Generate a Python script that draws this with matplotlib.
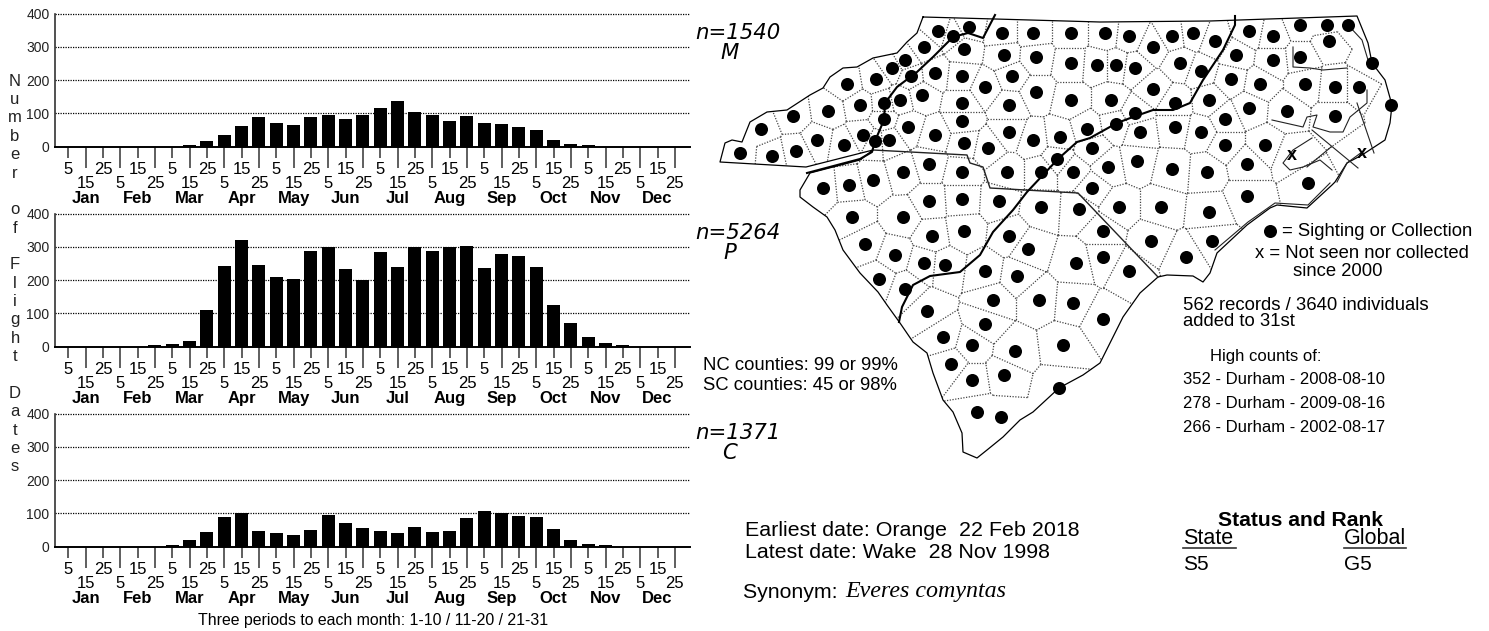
import matplotlib
matplotlib.use("Agg")

import numpy as np
import matplotlib.pyplot as plt
import matplotlib.tri as mtri
from matplotlib.collections import LineCollection
from matplotlib.patches import Polygon

plt.rcParams["font.family"] = ["Liberation Sans", "DejaVu Sans"]

W, H = 1489, 631

# =======================
# Data
# =======================

months = ["Jan", "Feb", "Mar", "Apr", "May", "Jun", "Jul", "Aug", "Sep", "Oct", "Nov", "Dec"]
periods = ["5", "15", "25"] * 12
y_ticks = [0, 100, 200, 300, 400]

mountains = [0, 0, 0, 0, 0, 0, 0, 5, 17, 35, 62, 89, 71, 65, 89, 95, 83, 95,
             116, 137, 104, 95, 77, 92, 71, 68, 59, 50, 20, 8, 5, 0, 0, 0, 0, 0]
piedmont = [0, 0, 0, 0, 0, 5, 8, 17, 110, 242, 320, 245, 209, 203, 287, 299, 233, 200,
            284, 239, 299, 287, 299, 302, 236, 278, 272, 239, 125, 71, 29, 11, 5, 0, 0, 0]
coastal = [0, 0, 0, 0, 0, 0, 5, 20, 44, 89, 101, 47, 41, 35, 50, 95, 71, 56,
           47, 41, 59, 44, 47, 86, 107, 101, 92, 89, 53, 20, 8, 5, 0, 0, 0, 0]

# dots and outlines, in picture pixels
dots_x = [937.7, 969.3, 953.3, 1001.7, 1033.3, 1070.7, 924, 964, 1004, 1036, 1070.7, 905.3,
          892, 876, 846.7, 910.7, 934.7, 961.7, 1012, 985.3, 1036, 1070.7, 921.7, 900,
          884, 860, 828, 793.3, 961.7, 1009.3, 884, 961.7, 908.3, 761.3, 934.7, 1009.3,
          862.7, 1086.7, 817.3, 874.7, 889.3, 964, 1033.3, 1060, 844, 988, 1092, 796,
          740, 772, 1057.3, 929.3, 902.7, 961.7, 1006.7, 1041.3, 1073.3, 873.3, 849.3, 822.7,
          1092, 961.7, 929.3, 998.7, 1041.3, 1078.7, 852, 902.7, 964, 932, 1009.3, 865.3,
          1105.3, 1129.3, 1172, 1193.3, 1153.3, 1214.7, 1249.3, 1273.3, 1300, 1326.7, 1348.3, 1329.3,
          1236, 1273.3, 1300, 1372, 1180, 1097.3, 1116, 1134.7, 1201.3, 1230.7, 1260, 1305.3,
          1334.7, 1358.7, 1153.3, 1110.7, 1209.3, 1174.7, 1390.7, 1249.3, 1286.7, 1134.7, 1334.7, 1225.3,
          1116, 1174.7, 1140, 1201.3, 1225.3, 1265.3, 1137.3, 1246.7, 1108, 1172, 1206.7, 1308,
          1246.7, 1118.7, 1161.3, 1209.3, 1102.7, 1151, 1212, 1102.7, 1129.3, 1185.7, 1102.7, 1028,
          894.7, 924, 945.3, 985.3, 1017.3, 1076, 878.7, 905.3, 926.7, 993.3, 1038.7, 1073.3,
          985.3, 942.7, 972, 1062.7, 1014.7, 950.7, 1004, 972, 1058.7, 977.3, 1001.3]
dots_y = [31.3, 27.3, 36, 33.3, 33.3, 33.3, 47, 49.3, 55, 57.3, 63.3, 60.3,
          68, 79, 84, 76, 73.3, 76.3, 76.3, 87.3, 92.3, 100, 95.3, 100,
          103.3, 105.3, 111, 116, 103.3, 105.3, 119, 121.3, 127, 129, 135, 132.3,
          135, 129.3, 140.3, 141.3, 140.3, 143.3, 140.3, 137, 145, 148.3, 148.3, 151,
          153.3, 156, 159, 164, 172, 172, 172, 172, 172, 180, 185.3, 188,
          188, 199, 201.3, 201.3, 207, 209.3, 217, 217, 231, 236, 236, 244,
          33.3, 36, 36, 33.3, 47, 41.3, 31.3, 36, 25.3, 25.3, 25.3, 41.3,
          55, 60.3, 57.3, 63, 63, 65.3, 65.3, 68, 70.7, 79, 84, 84,
          87, 87, 89.3, 100, 100, 103, 105.3, 108, 111, 113.3, 116, 119,
          124, 127, 132, 132, 145, 145, 161.3, 164, 166.7, 169.3, 172, 182.7,
          196, 207, 207, 212, 231.3, 241, 241, 257.3, 271.3, 257.3, 318.5, 249,
          255, 263.3, 265.3, 271, 276, 263.3, 279.3, 289, 311.3, 300, 300, 303,
          324, 337, 345, 345, 351, 364, 375, 380, 387.7, 412, 417]
gone_x = [1291.7, 1361.7]
gone_y = [155.7, 153.7]

state_outline = [(923, 17), (995, 19), (1100, 22), (1210, 21), (1357, 16), (1368, 43), (1372, 63),
                 (1385, 80), (1392, 105), (1390, 123), (1385, 140), (1362, 155), (1347, 163),
                 (1335, 182), (1332, 185), (1307, 208), (1277, 205), (1270, 208), (1247, 225),
                 (1217, 253), (1210, 273), (1203, 282), (1193, 276), (1167, 275), (1158, 277),
                 (1140, 293), (1123, 317), (1100, 363), (1083, 375), (1059, 388), (1033, 412),
                 (1020, 420), (1003, 437), (987, 450), (977, 458), (963, 452), (962, 433),
                 (953, 412), (943, 400), (933, 373), (927, 353), (913, 342), (900, 323), (887, 305),
                 (878, 292), (860, 273), (843, 250), (835, 230), (827, 217), (813, 207), (800, 197),
                 (800, 190), (810, 173), (860, 160), (873, 150), (806, 167), (720, 162), (725, 143),
                 (732, 140), (742, 142), (750, 122), (767, 112), (787, 110), (810, 95), (823, 88),
                 (830, 77), (843, 68), (857, 67), (873, 58), (897, 53), (907, 42), (917, 33)]
state_line = [(873, 150), (967, 155), (970, 163), (983, 167), (990, 188), (1078, 193), (1158, 277)]
mountain_line = [(995, 15), (983, 38), (968, 33), (953, 37), (933, 57), (917, 72), (897, 87), (885, 103),
                 (884, 120), (875, 141), (872, 152), (860, 159), (807, 173)]
plain_line = [(1235, 16), (1235, 25), (1223, 50), (1203, 80), (1190, 103), (1173, 110), (1153, 110),
              (1133, 117), (1117, 123), (1090, 138), (1077, 142), (1058, 159), (1027, 192), (1013, 210),
              (993, 232), (980, 255), (960, 272), (930, 276), (913, 285), (902, 307), (899, 322)]
sounds = [
    [(1293, 47), (1293, 67), (1310, 68), (1323, 70), (1347, 68)],
    [(1272, 120), (1303, 127), (1307, 117), (1317, 115), (1313, 127), (1330, 132), (1343, 132),
     (1350, 117), (1367, 103), (1367, 90)],
    [(1312, 138), (1293, 150), (1283, 163), (1290, 170), (1303, 167), (1320, 160), (1332, 170)],
    [(1357, 103), (1374, 153)],
    [(1312, 130), (1358, 168)],
    [(1331, 147), (1307, 167)],
    [(1348, 25), (1362, 40), (1368, 60)],
    [(1337, 182), (1347, 163), (1362, 152)],
    [(1330, 183), (1308, 205), (1275, 203), (1248, 222), (1215, 250)],
]

# =======================
# Layout helpers
# =======================

def add_bar_panel(fig, values, top_px, bottom_px):
    # axes box runs from the y axis at x=55 to the end of the gridlines at x=690
    ax = fig.add_axes([55 / W, 1 - bottom_px / H, 635 / W, (bottom_px - top_px) / H])
    ax.patch.set_alpha(0)
    idx = np.arange(len(values))
    ax.bar(idx, values, width=0.75, color="black", zorder=3)
    ax.set_xlim(-0.77, 35.87)
    ax.set_ylim(0, 400)

    ax.set_yticks(y_ticks)
    ax.tick_params(axis="y", length=0, pad=4, labelsize=10, colors="#222222")
    for v in y_ticks[1:]:
        ax.axhline(v, color="black", lw=0.9, ls=(0, (1, 1)), zorder=1, clip_on=False)

    ax.set_xticks(idx[::2], periods[::2])
    ax.set_xticks(idx[1::2], periods[1::2], minor=True)
    ax.tick_params(axis="x", which="major", length=8, width=1.1, pad=3, labelsize=12, color="#333333")
    ax.tick_params(axis="x", which="minor", length=15, width=1.1, pad=6, labelsize=12, color="#333333")

    for i, m in enumerate(months):
        ax.annotate(m, xy=(3 * i + 1, 0), xycoords=("data", "axes fraction"), xytext=(0, -37),
                    textcoords="offset points", ha="center", va="center", fontsize=12, weight="bold")

    for s in ["top", "right"]:
        ax.spines[s].set_visible(False)
    ax.spines["left"].set_color("#333333")
    ax.spines["left"].set_linewidth(1.2)
    ax.spines["bottom"].set_linewidth(1.4)
    return ax


def county_edges(x, y):
    # no county lines can be read one by one, so they are the cell edges around the dots
    tri = mtri.Triangulation(x, y)
    pts = np.column_stack([x, y])
    a, b, c = (pts[tri.triangles[:, k]] for k in range(3))
    d = 2 * (a[:, 0] * (b[:, 1] - c[:, 1]) + b[:, 0] * (c[:, 1] - a[:, 1]) + c[:, 0] * (a[:, 1] - b[:, 1]))
    na, nb, nc = (a ** 2).sum(1), (b ** 2).sum(1), (c ** 2).sum(1)
    ux = (na * (b[:, 1] - c[:, 1]) + nb * (c[:, 1] - a[:, 1]) + nc * (a[:, 1] - b[:, 1])) / d
    uy = (na * (c[:, 0] - b[:, 0]) + nb * (a[:, 0] - c[:, 0]) + nc * (b[:, 0] - a[:, 0])) / d
    segs = []
    for i, row in enumerate(tri.neighbors):
        for j in row:
            if j > i:
                segs.append([(ux[i], uy[i]), (ux[j], uy[j])])
    return segs


def draw_map(ax):
    sites_x = np.array(dots_x + gone_x)
    sites_y = np.array(dots_y + gone_y)
    clip = Polygon(state_outline, closed=True, transform=ax.transData, fill=False, lw=0)
    ax.add_patch(clip)
    lc = LineCollection(county_edges(sites_x, sites_y), colors="#444444", linewidths=0.9,
                        linestyles=[(0, (1, 1.2))], zorder=1)
    ax.add_collection(lc)
    lc.set_clip_path(clip)

    xs, ys = zip(*(state_outline + state_outline[:1]))
    ax.plot(xs, ys, color="black", lw=0.9, zorder=2)
    for line in sounds:
        ax.plot(*zip(*line), color="#222222", lw=0.8, zorder=2)
    ax.plot(*zip(*state_line), color="#222222", lw=1.0, zorder=2)
    ax.plot(*zip(*mountain_line), color="black", lw=1.5, zorder=3)
    ax.plot(*zip(*plain_line), color="black", lw=1.5, zorder=3)

    ax.scatter(dots_x, dots_y, s=88, color="black", lw=0, zorder=4)
    for x, y in zip(gone_x, gone_y):
        ax.text(x, y, "x", ha="center", va="center", fontsize=13, weight="bold", zorder=5)


def draw_notes(ax):
    for label, letter, y in [("n=1540", "M", 33), ("n=5264", "P", 233), ("n=1371", "C", 433)]:
        ax.text(780, y, label, ha="right", va="center", fontsize=15.3, style="italic", family="DejaVu Sans")
        ax.text(730, y + 20, letter, ha="center", va="center", fontsize=15.3, style="italic", family="DejaVu Sans")

    letters = "\n".join(c if c != " " else "" for c in "Number of Flight Dates")
    ax.text(15, 274, letters, ha="center", va="center", fontsize=12, linespacing=1.28, color="#222222")

    ax.text(703, 365, "NC counties: 99 or 99%", va="center", fontsize=13.3)
    ax.text(703, 386, "SC counties: 45 or 98%", va="center", fontsize=13.3)

    ax.scatter([1270], [231], s=88, color="black", lw=0)
    ax.text(1282, 232, "= Sighting or Collection", va="center", fontsize=13.3)
    ax.text(1255, 254, "x = Not seen nor collected", va="center", fontsize=13.3)
    ax.text(1293, 271, "since 2000", va="center", fontsize=13.3)
    ax.text(1183, 305, "562 records / 3640 individuals", va="center", fontsize=13.3)
    ax.text(1183, 321, "added to 31st", va="center", fontsize=13.3)
    ax.text(1210, 356, "High counts of:", va="center", fontsize=12)
    ax.text(1183, 379, "352 - Durham - 2008-08-10", va="center", fontsize=12)
    ax.text(1183, 403, "278 - Durham - 2009-08-16", va="center", fontsize=12)
    ax.text(1183, 427, "266 - Durham - 2002-08-17", va="center", fontsize=12)

    ax.text(745, 530, "Earliest date: Orange  22 Feb 2018", va="center", fontsize=15.4)
    ax.text(745, 553, "Latest date: Wake  28 Nov 1998", va="center", fontsize=15.4)
    ax.text(743, 592, "Synonym: ", va="center", fontsize=15.3)
    ax.text(845, 592, "Everes comyntas", va="center", fontsize=17.3, style="italic", family="Liberation Serif")

    ax.text(1301, 520, "Status and Rank", ha="center", va="center", fontsize=15.2, weight="bold")
    ax.text(1183, 538, "State", va="center", fontsize=15.5)
    ax.text(1344, 538, "Global", va="center", fontsize=15.5)
    ax.plot([1183, 1236], [548, 548], color="#333333", lw=1.2)
    ax.plot([1344, 1406], [548, 548], color="#333333", lw=1.2)
    ax.text(1183, 565, "S5", va="center", fontsize=15)
    ax.text(1344, 565, "G5", va="center", fontsize=15)

    ax.text(373, 620, "Three periods to each month: 1-10 / 11-20 / 21-31", ha="center", va="center", fontsize=11.4)


# =======================
# Main
# =======================

fig = plt.figure(figsize=(W / 100, H / 100), dpi=100)

# whole-figure axes in picture pixels for the map and the loose text
ax_map = fig.add_axes([0, 0, 1, 1])
ax_map.set_xlim(0, W)
ax_map.set_ylim(H, 0)
ax_map.axis("off")

draw_map(ax_map)
draw_notes(ax_map)

add_bar_panel(fig, mountains, 13.5, 146.7)
add_bar_panel(fig, piedmont, 213.5, 346.7)
add_bar_panel(fig, coastal, 413.5, 546.7)

fig.savefig("out.png", dpi=100)
plt.close(fig)
